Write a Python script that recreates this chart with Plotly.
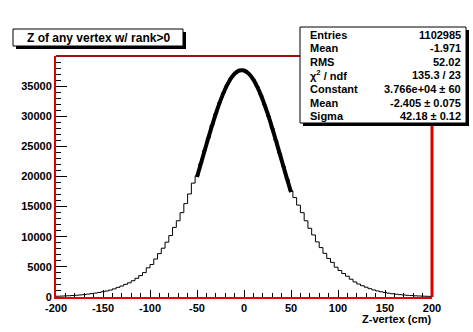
import plotly.graph_objects as go

# ---- data ----
bin_edges = list(range(-200, 201, 4))  # 100 bins of 4 cm
counts = [
    130, 150, 180, 210, 250, 290, 340, 400, 480, 560,
    650, 750, 880, 1000, 1150, 1350, 1600, 1820, 2100, 2350,
    2700, 3100, 3550, 4050, 4850, 5400, 6300, 7200, 8100, 9100,
    10200, 11550, 12650, 14000, 15500, 17100, 18900,
    20100, 22150, 24300, 26400, 28500, 30450, 32250, 33850, 35200, 36300,
    37050, 37500, 37700, 37500, 36950, 36100, 34950, 33500, 31850, 30000,
    28000, 25950, 23800, 21650, 19550, 17600,
    16500, 15250, 14000, 12650, 11400, 10300, 9150, 8200, 7250, 6400,
    5750, 4950, 4400, 3900, 3450, 2950, 2500, 2150, 1870, 1620,
    1380, 1170, 1000, 860, 740, 630, 540, 460, 390, 330,
    280, 240, 200, 170, 145, 120, 100,
]
fit_x = [-50, -45, -40, -35, -30, -25, -20, -15, -10, -5, 0,
         5, 10, 15, 20, 25, 30, 35, 40, 45, 50]
fit_y = [19920, 22610, 25320, 27940, 30410, 32630, 34520, 36020, 37050, 37590, 37600,
         37080, 36070, 34590, 32710, 30500, 28040, 25420, 22720, 20030, 17410]

title_text = "Z of any vertex w/ rank>0"
x_title = "Z-vertex (cm)"
stats_labels = ["Entries", "Mean", "RMS", "χ<sup>2</sup> / ndf", "Constant", "Mean", "Sigma"]
stats_values = ["1102985", "-1.971", "52.02", "135.3 / 23", "3.766e+04 ± 60", "-2.405 ± 0.075", "42.18 ± 0.12"]
x_ticks = [-200, -150, -100, -50, 0, 50, 100, 150, 200]
x_tick_labels = ["-200", "-150", "-100", "-50", "0", "50", "100", "150", "200"]
y_ticks = [0, 5000, 10000, 15000, 20000, 25000, 30000, 35000]
y_tick_labels = ["0", "5000", "10000", "15000", "20000", "25000", "30000", "35000"]

# ---- layout geometry (pixels) ----
W, H = 473, 332
L, R, T, B = 56, 432, 56, 297
pw, ph = R - L, B - T

def px(x):
    return (x - L) / pw

def py(y):
    return (B - y) / ph

FONT = "Liberation Sans"

fig = go.Figure()
fig.add_trace(go.Scatter(
    x=bin_edges, y=counts + [counts[-1]], mode="lines",
    line=dict(color="black", width=1, shape="hv"), hoverinfo="skip"))
fig.add_trace(go.Scatter(
    x=fit_x, y=fit_y, mode="lines",
    line=dict(color="black", width=4, shape="spline"), hoverinfo="skip"))

shapes = []
# frame: top (dark red) and right (red)
shapes.append(dict(type="line", xref="paper", yref="paper", x0=0, x1=1, y0=1, y1=1,
                   line=dict(color="#a01010", width=2)))
shapes.append(dict(type="line", xref="paper", yref="paper", x0=1, x1=1, y0=0, y1=1,
                   line=dict(color="#e00000", width=3)))
# title box with shadow
shapes.append(dict(type="rect", xref="paper", yref="paper",
                   x0=px(16), x1=px(186), y0=py(32), y1=py(49),
                   fillcolor="black", line=dict(width=0)))
shapes.append(dict(type="rect", xref="paper", yref="paper",
                   x0=px(13), x1=px(183), y0=py(29), y1=py(46),
                   fillcolor="white", line=dict(color="black", width=1)))
# stats box with shadow
shapes.append(dict(type="rect", xref="paper", yref="paper",
                   x0=px(303), x1=px(469), y0=py(30), y1=py(126),
                   fillcolor="black", line=dict(width=0)))
shapes.append(dict(type="rect", xref="paper", yref="paper",
                   x0=px(300), x1=px(466), y0=py(27), y1=py(123),
                   fillcolor="white", line=dict(color="black", width=1)))

annotations = []
annotations.append(dict(text=title_text, xref="paper", yref="paper",
                        x=px(98), y=py(37.5), xanchor="center", yanchor="middle",
                        showarrow=False, font=dict(family=FONT, size=12, color="black", weight="bold")))
annotations.append(dict(text=x_title, xref="paper", yref="paper",
                        x=px(433), y=py(319), xanchor="right", yanchor="middle",
                        showarrow=False, font=dict(family=FONT, size=11, color="black", weight="bold")))
for i, (lab, val) in enumerate(zip(stats_labels, stats_values)):
    yy = py(34.5 + 13.6 * i)
    annotations.append(dict(text=lab, xref="paper", yref="paper", x=px(308), y=yy,
                            xanchor="left", yanchor="middle", showarrow=False,
                            font=dict(family=FONT, size=11, color="black", weight="bold")))
    annotations.append(dict(text=val, xref="paper", yref="paper", x=px(463), y=yy,
                            xanchor="right", yanchor="middle", showarrow=False,
                            font=dict(family=FONT, size=11, color="black", weight="bold")))

fig.update_layout(
    width=W, height=H,
    margin=dict(l=L, r=W - R, t=T, b=H - B),
    paper_bgcolor="white", plot_bgcolor="white",
    showlegend=False,
    shapes=shapes, annotations=annotations,
    xaxis=dict(range=[-200, 200], tickvals=x_ticks, ticktext=x_tick_labels,
               showgrid=False, zeroline=False,
               ticks="inside", ticklen=7, tickcolor="black", tickwidth=1,
               minor=dict(dtick=10, ticks="inside", ticklen=4, tickcolor="black", showgrid=False),
               showline=True, linecolor="#e00000", linewidth=2, mirror=False,
               tickfont=dict(family=FONT, size=11, color="black", weight="bold")),
    yaxis=dict(range=[0, 40000], tickvals=y_ticks, ticktext=y_tick_labels,
               showgrid=False, zeroline=False,
               ticks="inside", ticklen=11, tickcolor="black", tickwidth=1,
               minor=dict(dtick=1000, ticks="inside", ticklen=5, tickcolor="black", showgrid=False),
               showline=True, linecolor="#e00000", linewidth=2, mirror=False,
               tickfont=dict(family=FONT, size=11, color="black", weight="bold")),
)

fig.write_html("out.html")
